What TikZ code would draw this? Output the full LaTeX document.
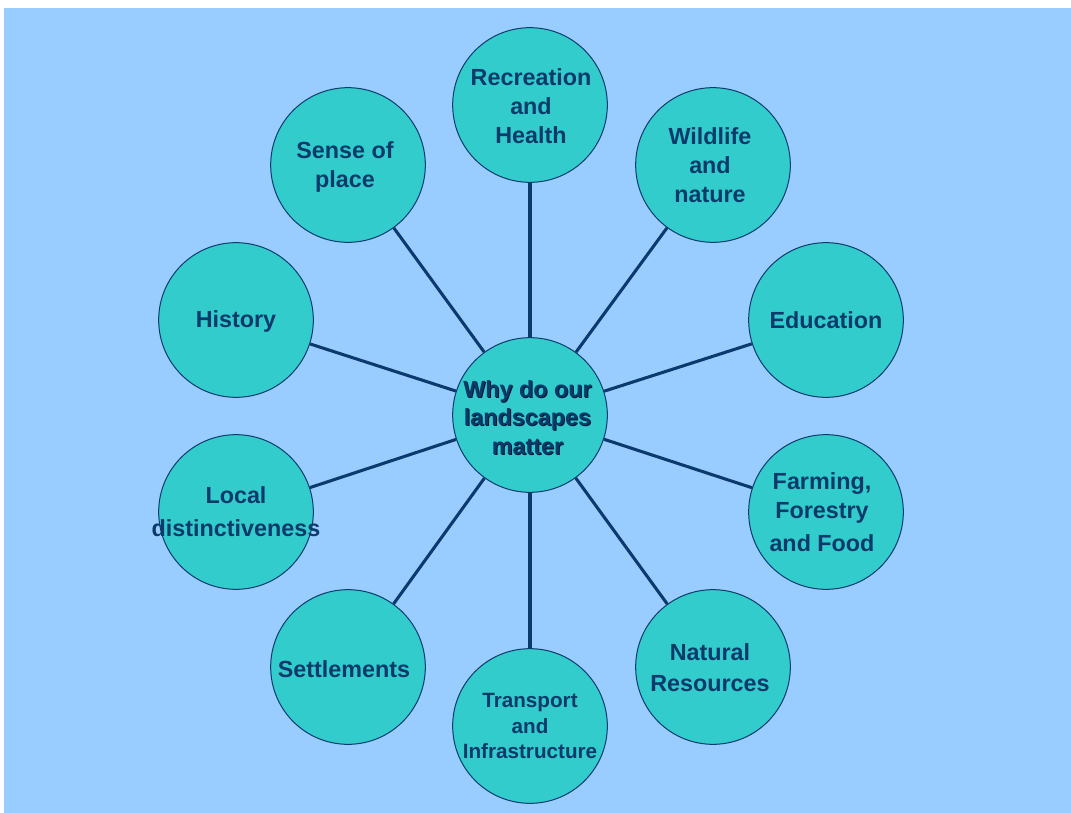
\documentclass[tikz,border=0pt]{standalone}
\usepackage{fontspec}
\setmainfont{Liberation Sans}
\usepackage{xcolor}
\usetikzlibrary{positioning}
\definecolor{skyback}{HTML}{99CCFF}
\definecolor{tealfill}{HTML}{33CCCC}
\definecolor{navyline}{HTML}{0B3A6B}
\definecolor{navyshadow}{HTML}{001833}
\tikzset{
  bubble/.style={draw=navyline, line width=0.75pt, circle, fill=tealfill, minimum size=116pt, inner sep=0pt},
  bubtext/.style={text=navyline, align=center, font=\fontsize{17.5}{21.75}\selectfont\bfseries},
  spoke/.style={draw=navyline, line width=2.3pt}
}

\begin{document}
\begin{tikzpicture}[x=0.75pt, y=-0.75pt]
    % canvas
    \useasboundingbox (0,0) rectangle (1071,813);
    \fill[white] (0,0) rectangle (1071,813);
    \fill[skyback] (4,8) rectangle (1071,813);

    % centre
    \node[bubble] (hub) at (530,415) {};

    % outer circles
    \node[bubble] (rec) at (530,105) {};
    \node[bubble] (wild) at (713,165) {};
    \node[bubble] (edu) at (826,320) {};
    \node[bubble] (farm) at (826,512) {};
    \node[bubble] (natres) at (713,667) {};
    \node[bubble] (trans) at (530,726) {};
    \node[bubble] (settle) at (348,667) {};
    \node[bubble] (local) at (236,512) {};
    \node[bubble] (hist) at (236,320) {};
    \node[bubble] (sense) at (348,165) {};

    % spokes
    \foreach \n in {rec,wild,edu,farm,natres,trans,settle,local,hist,sense}
        \draw[spoke] (hub) -- (\n);

    % labels
    \node[bubtext] at (531,106) {Recreation\\and\\Health};
    \node[bubtext] at (710,165) {Wildlife\\and\\nature};
    \node[bubtext] at (826,320) {Education};
    \node[bubtext] at (822,512) {Farming,\\Forestry\\[3pt]and Food};
    \node[bubtext, font=\fontsize{17.5}{23.25}\selectfont\bfseries] at (710,668) {Natural\\Resources};
    \node[bubtext, font=\fontsize{15.5}{19}\selectfont\bfseries] at (530,726) {Transport\\and\\Infrastructure};
    \node[bubtext] at (344,669) {Settlements};
    \node[bubtext, font=\fontsize{17.5}{24.75}\selectfont\bfseries] at (236,512) {Local\\distinctiveness};
    \node[bubtext] at (236,321) {History};
    \node[bubtext] at (345,167) {Sense of\\place};

    % centre label with shadow
    \node[bubtext, text=navyshadow, font=\fontsize{17.5}{21.5}\selectfont\bfseries] at (528.5,418.5) {Why do our\\landscapes\\matter};
    \node[bubtext, font=\fontsize{17.5}{21.5}\selectfont\bfseries] at (527.5,417.5) {Why do our\\landscapes\\matter};
\end{tikzpicture}
\end{document}
